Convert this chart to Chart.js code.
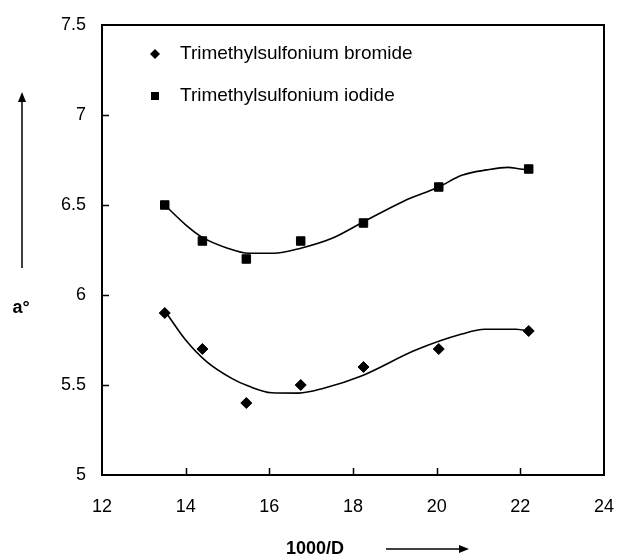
<!DOCTYPE html>
<html>
<head>
<meta charset="utf-8">
<script src="https://cdn.jsdelivr.net/npm/chart.js@4.4.1/dist/chart.umd.min.js"></script>
<style>
  html, body { margin: 0; padding: 0; background: #ffffff; }
  #wrap { width: 617px; height: 559px; position: relative; }
</style>
</head>
<body>
<div id="wrap"><canvas id="c" width="617" height="559"></canvas></div>
<script>
// ---- data ----
const xValues = [13.5, 14.4, 15.45, 16.75, 18.25, 20.05, 22.2];
const bromideValues = [5.9, 5.7, 5.4, 5.5, 5.6, 5.7, 5.8];
const iodideValues = [6.5, 6.3, 6.2, 6.3, 6.4, 6.6, 6.7];

// trend curves
const bromideTrendX = [13.55, 14.0, 14.5, 15.1, 15.5, 16.05, 16.7, 17.3, 18.2, 19.5, 20.6, 21.15, 21.9, 22.25];
const bromideTrendY = [5.896, 5.75, 5.63, 5.537, 5.494, 5.457, 5.455, 5.482, 5.55, 5.694, 5.783, 5.81, 5.81, 5.796];
const iodideTrendX = [13.5, 14.0, 14.4, 15.0, 15.5, 16.1, 16.75, 17.5, 18.2, 19.2, 20.05, 20.6, 21.2, 21.7, 22.0, 22.2];
const iodideTrendY = [6.5, 6.39, 6.32, 6.26, 6.232, 6.232, 6.26, 6.315, 6.4, 6.52, 6.6, 6.665, 6.695, 6.709, 6.7, 6.695];

const seriesNames = ['Trimethylsulfonium bromide', 'Trimethylsulfonium iodide'];
const xTitle = '1000/D';
const yTitle = 'a°';
const xTickMin = 12, xTickMax = 24, xTickStep = 2;
const yTickMin = 5, yTickMax = 7.5, yTickStep = 0.5;

const toPts = (xs, ys) => xs.map((x, i) => ({ x: x, y: ys[i] }));

const FONT = '"Liberation Sans", Arial, sans-serif';

const framePlugin = {
  id: 'frame',
  afterDraw(chart) {
    const ctx = chart.ctx;
    const a = chart.chartArea;
    const xs = chart.scales.x, ys = chart.scales.y;
    ctx.save();
    ctx.strokeStyle = '#000';
    ctx.lineWidth = 2;
    ctx.strokeRect(a.left, a.top, a.right - a.left, a.bottom - a.top);
    // inward tick marks
    ctx.beginPath();
    xs.ticks.forEach(t => {
      if (t.value <= xTickMin || t.value >= xTickMax) return;
      const px = Math.round(xs.getPixelForValue(t.value)) + 0.5;
      ctx.moveTo(px, a.bottom);
      ctx.lineTo(px, a.bottom - 7);
    });
    ys.ticks.forEach(t => {
      if (t.value <= yTickMin || t.value >= yTickMax) return;
      const py = Math.round(ys.getPixelForValue(t.value)) + 0.5;
      ctx.moveTo(a.left, py);
      ctx.lineTo(a.left + 7, py);
    });
    ctx.lineWidth = 1.5;
    ctx.stroke();

    // legend (inside plot)
    ctx.fillStyle = '#000';
    ctx.font = '19px ' + FONT;
    ctx.textBaseline = 'middle';
    ctx.textAlign = 'left';
    const lx = 155, ly1 = 54, ly2 = 96;
    ctx.beginPath();
    ctx.moveTo(lx, ly1 - 5); ctx.lineTo(lx + 5, ly1); ctx.lineTo(lx, ly1 + 5); ctx.lineTo(lx - 5, ly1); ctx.closePath();
    ctx.fill();
    ctx.fillText(seriesNames[0], 180, ly1);
    ctx.fillRect(lx - 4, ly2 - 4, 8, 8);
    ctx.fillText(seriesNames[1], 180, ly2);

    // axis titles
    ctx.font = 'bold 18px ' + FONT;
    ctx.textAlign = 'center';
    ctx.fillText(xTitle, 315, 549);
    ctx.fillText(yTitle, 21, 308);

    // arrows
    ctx.lineWidth = 1.5;
    ctx.beginPath();
    ctx.moveTo(386, 549); ctx.lineTo(462, 549);
    ctx.moveTo(22, 268); ctx.lineTo(22, 100);
    ctx.stroke();
    ctx.beginPath();
    ctx.moveTo(469, 549); ctx.lineTo(459, 545); ctx.lineTo(459, 553); ctx.closePath();
    ctx.fill();
    ctx.beginPath();
    ctx.moveTo(22, 92); ctx.lineTo(18, 102); ctx.lineTo(26, 102); ctx.closePath();
    ctx.fill();
    ctx.restore();
  }
};

new Chart(document.getElementById('c'), {
  type: 'scatter',
  data: {
    datasets: [
      {
        label: seriesNames[0],
        data: toPts(xValues, bromideValues),
        pointStyle: 'rectRot',
        pointRadius: 5.5,
        pointHoverRadius: 5.5,
        backgroundColor: '#000',
        borderColor: '#000',
        borderWidth: 1,
        showLine: false,
        order: 0
      },
      {
        label: seriesNames[1],
        data: toPts(xValues, iodideValues),
        pointStyle: 'rect',
        pointRadius: 6,
        pointHoverRadius: 6,
        backgroundColor: '#000',
        borderColor: '#000',
        borderWidth: 1,
        showLine: false,
        order: 0
      },
      {
        label: 'bromide trend',
        data: toPts(bromideTrendX, bromideTrendY),
        showLine: true,
        pointRadius: 0,
        borderColor: '#000',
        borderWidth: 1.6,
        cubicInterpolationMode: 'monotone',
        fill: false,
        order: 1
      },
      {
        label: 'iodide trend',
        data: toPts(iodideTrendX, iodideTrendY),
        showLine: true,
        pointRadius: 0,
        borderColor: '#000',
        borderWidth: 1.6,
        cubicInterpolationMode: 'monotone',
        fill: false,
        order: 1
      }
    ]
  },
  options: {
    responsive: false,
    animation: false,
    events: [],
    layout: { padding: { left: 0, top: 25, right: 13, bottom: 0 } },
    plugins: { legend: { display: false }, tooltip: { enabled: false } },
    scales: {
      x: {
        type: 'linear',
        min: xTickMin, max: xTickMax,
        grid: { display: false, drawTicks: false },
        border: { display: false },
        ticks: { stepSize: xTickStep, color: '#000', font: { family: FONT, size: 18 }, padding: 21, maxRotation: 0 },
        afterFit(s) { s.height = 84; s.paddingLeft = 0; s.paddingRight = 0; }
      },
      y: {
        type: 'linear',
        min: yTickMin, max: yTickMax,
        grid: { display: false, drawTicks: false },
        border: { display: false },
        ticks: {
          stepSize: yTickStep, color: '#000', font: { family: FONT, size: 18 }, padding: 16,
          callback: v => String(Math.round(v * 10) / 10)
        },
        afterFit(s) { s.width = 102; s.paddingTop = 0; s.paddingBottom = 0; }
      }
    }
  },
  plugins: [framePlugin]
});
</script>
</body>
</html>
